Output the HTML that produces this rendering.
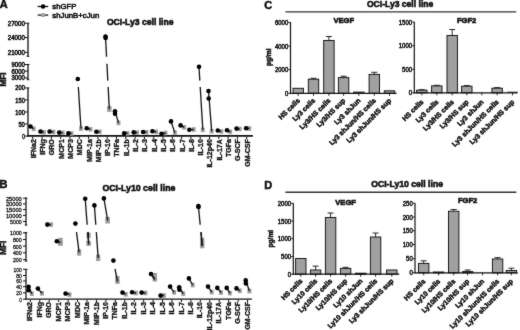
<!DOCTYPE html>
<html><head><meta charset="utf-8"><style>
html,body{margin:0;padding:0;background:#fff;}
svg{display:block;}
text{font-family:"Liberation Sans", sans-serif;}
</style></head><body>
<svg width="520" height="330" viewBox="0 0 520 330">
<defs><filter id="bl" x="0" y="0" width="520" height="330" filterUnits="userSpaceOnUse" color-interpolation-filters="sRGB"><feConvolveMatrix order="3" kernelMatrix="1 2 1 2 28 2 1 2 1" divisor="40" edgeMode="duplicate"/></filter></defs>
<g filter="url(#bl)">
<rect width="520" height="330" fill="#fff"/>
<text x="-0.2" y="8.4" font-size="11" font-weight="bold" text-anchor="start" fill="#111" stroke="#111" stroke-width="0.5">A</text>
<text x="-0.6" y="187.8" font-size="11" font-weight="bold" text-anchor="start" fill="#111" stroke="#111" stroke-width="0.5">B</text>
<text x="264.3" y="8.7" font-size="11" font-weight="bold" text-anchor="start" fill="#111" stroke="#111" stroke-width="0.5">C</text>
<text x="264.3" y="188.5" font-size="11" font-weight="bold" text-anchor="start" fill="#111" stroke="#111" stroke-width="0.5">D</text>
<line x1="37.7" y1="6.5" x2="48.2" y2="6.5" stroke="#111" stroke-width="1.3"/>
<circle cx="43.1" cy="6.5" r="2.3" fill="#000"/>
<text x="52.3" y="9.3" font-size="7.5" font-weight="normal" text-anchor="start" fill="#111" textLength="24" lengthAdjust="spacingAndGlyphs" stroke="#111" stroke-width="0.55">shGFP</text>
<line x1="37.7" y1="15.1" x2="48.2" y2="15.1" stroke="#333" stroke-width="1.5"/>
<rect x="41.3" y="13.2" width="3.6" height="3.8" fill="#a0a0a0"/>
<text x="52.3" y="17.9" font-size="7.5" font-weight="normal" text-anchor="start" fill="#111" textLength="47" lengthAdjust="spacingAndGlyphs" stroke="#111" stroke-width="0.55">shJunB+cJun</text>
<text x="106.9" y="25.4" font-size="9" font-weight="bold" text-anchor="start" fill="#111" textLength="66.6" lengthAdjust="spacingAndGlyphs" stroke="#111" stroke-width="0.6">OCI-Ly3 cell line</text>
<line x1="28.0" y1="23.2" x2="28.0" y2="56.5" stroke="#111" stroke-width="1.3"/>
<line x1="26.7" y1="56.3" x2="29.3" y2="56.3" stroke="#111" stroke-width="1.0"/>
<line x1="28.0" y1="64.5" x2="28.0" y2="80.0" stroke="#111" stroke-width="1.3"/>
<line x1="26.7" y1="79.7" x2="29.3" y2="79.7" stroke="#111" stroke-width="1.0"/>
<line x1="28.0" y1="87.9" x2="28.0" y2="136.6" stroke="#111" stroke-width="1.3"/>
<line x1="28.0" y1="23.2" x2="29.4" y2="23.2" stroke="#111" stroke-width="1.0"/>
<line x1="28.0" y1="64.5" x2="29.4" y2="64.5" stroke="#111" stroke-width="1.0"/>
<line x1="28.0" y1="87.9" x2="29.4" y2="87.9" stroke="#111" stroke-width="1.0"/>
<line x1="25.0" y1="23.2" x2="28.0" y2="23.2" stroke="#111" stroke-width="1.0"/>
<text x="24.8" y="25.7" font-size="7" font-weight="normal" text-anchor="end" fill="#111" textLength="17" lengthAdjust="spacingAndGlyphs" stroke="#111" stroke-width="0.55">27000</text>
<line x1="25.0" y1="37.6" x2="28.0" y2="37.6" stroke="#111" stroke-width="1.0"/>
<text x="24.8" y="40.1" font-size="7" font-weight="normal" text-anchor="end" fill="#111" textLength="17" lengthAdjust="spacingAndGlyphs" stroke="#111" stroke-width="0.55">24000</text>
<line x1="25.0" y1="52.3" x2="28.0" y2="52.3" stroke="#111" stroke-width="1.0"/>
<text x="24.8" y="54.8" font-size="7" font-weight="normal" text-anchor="end" fill="#111" textLength="17" lengthAdjust="spacingAndGlyphs" stroke="#111" stroke-width="0.55">21000</text>
<line x1="25.0" y1="64.5" x2="28.0" y2="64.5" stroke="#111" stroke-width="1.0"/>
<text x="24.8" y="67.0" font-size="7" font-weight="normal" text-anchor="end" fill="#111" textLength="13.3" lengthAdjust="spacingAndGlyphs" stroke="#111" stroke-width="0.55">9000</text>
<line x1="25.0" y1="71.1" x2="28.0" y2="71.1" stroke="#111" stroke-width="1.0"/>
<text x="24.8" y="73.6" font-size="7" font-weight="normal" text-anchor="end" fill="#111" textLength="13.3" lengthAdjust="spacingAndGlyphs" stroke="#111" stroke-width="0.55">6000</text>
<line x1="25.0" y1="77.9" x2="28.0" y2="77.9" stroke="#111" stroke-width="1.0"/>
<text x="24.8" y="80.4" font-size="7" font-weight="normal" text-anchor="end" fill="#111" textLength="13.3" lengthAdjust="spacingAndGlyphs" stroke="#111" stroke-width="0.55">3000</text>
<line x1="25.0" y1="87.9" x2="28.0" y2="87.9" stroke="#111" stroke-width="1.0"/>
<text x="24.8" y="90.4" font-size="7" font-weight="normal" text-anchor="end" fill="#111" textLength="9.5" lengthAdjust="spacingAndGlyphs" stroke="#111" stroke-width="0.55">200</text>
<line x1="25.0" y1="100.0" x2="28.0" y2="100.0" stroke="#111" stroke-width="1.0"/>
<text x="24.8" y="102.5" font-size="7" font-weight="normal" text-anchor="end" fill="#111" textLength="9.5" lengthAdjust="spacingAndGlyphs" stroke="#111" stroke-width="0.55">150</text>
<line x1="25.0" y1="112.0" x2="28.0" y2="112.0" stroke="#111" stroke-width="1.0"/>
<text x="24.8" y="114.5" font-size="7" font-weight="normal" text-anchor="end" fill="#111" textLength="9.5" lengthAdjust="spacingAndGlyphs" stroke="#111" stroke-width="0.55">100</text>
<line x1="25.0" y1="124.0" x2="28.0" y2="124.0" stroke="#111" stroke-width="1.0"/>
<text x="24.8" y="126.5" font-size="7" font-weight="normal" text-anchor="end" fill="#111" textLength="6.4" lengthAdjust="spacingAndGlyphs" stroke="#111" stroke-width="0.55">50</text>
<line x1="25.0" y1="136.1" x2="28.0" y2="136.1" stroke="#111" stroke-width="1.0"/>
<text x="24.8" y="138.6" font-size="7" font-weight="normal" text-anchor="end" fill="#111" textLength="2.6" lengthAdjust="spacingAndGlyphs" stroke="#111" stroke-width="0.55">0</text>
<text transform="translate(6.0,79.5) rotate(-90)" font-size="8.2" font-weight="bold" text-anchor="middle" fill="#111" stroke="#111" stroke-width="0.5">MFI</text>
<line x1="27.4" y1="135.9" x2="252.9" y2="135.9" stroke="#111" stroke-width="1.6"/>
<line x1="32.8" y1="136.5" x2="32.8" y2="139.0" stroke="#111" stroke-width="1.0"/>
<text transform="translate(35.699999999999996,139.2) rotate(-90)" font-size="7.0" font-weight="bold" text-anchor="end" fill="#111" stroke="#111" stroke-width="0.35">IFNa2</text>
<line x1="42.099999999999994" y1="136.5" x2="42.099999999999994" y2="139.0" stroke="#111" stroke-width="1.0"/>
<text transform="translate(44.99999999999999,139.2) rotate(-90)" font-size="7.0" font-weight="bold" text-anchor="end" fill="#111" stroke="#111" stroke-width="0.35">IFNg</text>
<line x1="51.4" y1="136.5" x2="51.4" y2="139.0" stroke="#111" stroke-width="1.0"/>
<text transform="translate(54.3,139.2) rotate(-90)" font-size="7.0" font-weight="bold" text-anchor="end" fill="#111" stroke="#111" stroke-width="0.35">GRO</text>
<line x1="60.7" y1="136.5" x2="60.7" y2="139.0" stroke="#111" stroke-width="1.0"/>
<text transform="translate(63.6,139.2) rotate(-90)" font-size="7.0" font-weight="bold" text-anchor="end" fill="#111" stroke="#111" stroke-width="0.35">MCP1</text>
<line x1="70.0" y1="136.5" x2="70.0" y2="139.0" stroke="#111" stroke-width="1.0"/>
<text transform="translate(72.9,139.2) rotate(-90)" font-size="7.0" font-weight="bold" text-anchor="end" fill="#111" stroke="#111" stroke-width="0.35">MCP3</text>
<line x1="79.3" y1="136.5" x2="79.3" y2="139.0" stroke="#111" stroke-width="1.0"/>
<text transform="translate(82.2,139.2) rotate(-90)" font-size="7.0" font-weight="bold" text-anchor="end" fill="#111" stroke="#111" stroke-width="0.35">MDC</text>
<line x1="88.6" y1="136.5" x2="88.6" y2="139.0" stroke="#111" stroke-width="1.0"/>
<text transform="translate(91.5,139.2) rotate(-90)" font-size="7.0" font-weight="bold" text-anchor="end" fill="#111" stroke="#111" stroke-width="0.35">MIP-1a</text>
<line x1="97.9" y1="136.5" x2="97.9" y2="139.0" stroke="#111" stroke-width="1.0"/>
<text transform="translate(100.80000000000001,139.2) rotate(-90)" font-size="7.0" font-weight="bold" text-anchor="end" fill="#111" stroke="#111" stroke-width="0.35">MIP-1b</text>
<line x1="107.2" y1="136.5" x2="107.2" y2="139.0" stroke="#111" stroke-width="1.0"/>
<text transform="translate(110.10000000000001,139.2) rotate(-90)" font-size="7.0" font-weight="bold" text-anchor="end" fill="#111" stroke="#111" stroke-width="0.35">IP-10</text>
<line x1="116.5" y1="136.5" x2="116.5" y2="139.0" stroke="#111" stroke-width="1.0"/>
<text transform="translate(119.4,139.2) rotate(-90)" font-size="7.0" font-weight="bold" text-anchor="end" fill="#111" stroke="#111" stroke-width="0.35">TNFa</text>
<line x1="125.8" y1="136.5" x2="125.8" y2="139.0" stroke="#111" stroke-width="1.0"/>
<text transform="translate(128.7,139.2) rotate(-90)" font-size="7.0" font-weight="bold" text-anchor="end" fill="#111" stroke="#111" stroke-width="0.35">IL-1b</text>
<line x1="135.10000000000002" y1="136.5" x2="135.10000000000002" y2="139.0" stroke="#111" stroke-width="1.0"/>
<text transform="translate(138.00000000000003,139.2) rotate(-90)" font-size="7.0" font-weight="bold" text-anchor="end" fill="#111" stroke="#111" stroke-width="0.35">IL-2</text>
<line x1="144.4" y1="136.5" x2="144.4" y2="139.0" stroke="#111" stroke-width="1.0"/>
<text transform="translate(147.3,139.2) rotate(-90)" font-size="7.0" font-weight="bold" text-anchor="end" fill="#111" stroke="#111" stroke-width="0.35">IL-3</text>
<line x1="153.7" y1="136.5" x2="153.7" y2="139.0" stroke="#111" stroke-width="1.0"/>
<text transform="translate(156.6,139.2) rotate(-90)" font-size="7.0" font-weight="bold" text-anchor="end" fill="#111" stroke="#111" stroke-width="0.35">IL-4</text>
<line x1="163.0" y1="136.5" x2="163.0" y2="139.0" stroke="#111" stroke-width="1.0"/>
<text transform="translate(165.9,139.2) rotate(-90)" font-size="7.0" font-weight="bold" text-anchor="end" fill="#111" stroke="#111" stroke-width="0.35">IL-5</text>
<line x1="172.3" y1="136.5" x2="172.3" y2="139.0" stroke="#111" stroke-width="1.0"/>
<text transform="translate(175.20000000000002,139.2) rotate(-90)" font-size="7.0" font-weight="bold" text-anchor="end" fill="#111" stroke="#111" stroke-width="0.35">IL-6</text>
<line x1="181.60000000000002" y1="136.5" x2="181.60000000000002" y2="139.0" stroke="#111" stroke-width="1.0"/>
<text transform="translate(184.50000000000003,139.2) rotate(-90)" font-size="7.0" font-weight="bold" text-anchor="end" fill="#111" stroke="#111" stroke-width="0.35">IL-7</text>
<line x1="190.90000000000003" y1="136.5" x2="190.90000000000003" y2="139.0" stroke="#111" stroke-width="1.0"/>
<text transform="translate(193.80000000000004,139.2) rotate(-90)" font-size="7.0" font-weight="bold" text-anchor="end" fill="#111" stroke="#111" stroke-width="0.35">IL-8</text>
<line x1="200.2" y1="136.5" x2="200.2" y2="139.0" stroke="#111" stroke-width="1.0"/>
<text transform="translate(203.1,139.2) rotate(-90)" font-size="7.0" font-weight="bold" text-anchor="end" fill="#111" stroke="#111" stroke-width="0.35">IL-10</text>
<line x1="209.5" y1="136.5" x2="209.5" y2="139.0" stroke="#111" stroke-width="1.0"/>
<text transform="translate(212.4,139.2) rotate(-90)" font-size="7.0" font-weight="bold" text-anchor="end" fill="#111" stroke="#111" stroke-width="0.35">IL-12p40</text>
<line x1="218.8" y1="136.5" x2="218.8" y2="139.0" stroke="#111" stroke-width="1.0"/>
<text transform="translate(221.70000000000002,139.2) rotate(-90)" font-size="7.0" font-weight="bold" text-anchor="end" fill="#111" stroke="#111" stroke-width="0.35">IL-17A</text>
<line x1="228.10000000000002" y1="136.5" x2="228.10000000000002" y2="139.0" stroke="#111" stroke-width="1.0"/>
<text transform="translate(231.00000000000003,139.2) rotate(-90)" font-size="7.0" font-weight="bold" text-anchor="end" fill="#111" stroke="#111" stroke-width="0.35">TGFa</text>
<line x1="237.40000000000003" y1="136.5" x2="237.40000000000003" y2="139.0" stroke="#111" stroke-width="1.0"/>
<text transform="translate(240.30000000000004,139.2) rotate(-90)" font-size="7.0" font-weight="bold" text-anchor="end" fill="#111" stroke="#111" stroke-width="0.35">G-SCF</text>
<line x1="246.7" y1="136.5" x2="246.7" y2="139.0" stroke="#111" stroke-width="1.0"/>
<text transform="translate(249.6,139.2) rotate(-90)" font-size="7.0" font-weight="bold" text-anchor="end" fill="#111" stroke="#111" stroke-width="0.35">GM-CSF</text>
<rect x="107.1" y="106.1" width="4.4" height="5.8" fill="#a0a0a0"/>
<rect x="31.75" y="126.5" width="3.9" height="4.6" fill="#a0a0a0"/>
<rect x="41.95" y="130.0" width="3.9" height="4.6" fill="#a0a0a0"/>
<rect x="51.45" y="129.7" width="3.9" height="4.6" fill="#a0a0a0"/>
<rect x="60.75" y="130.5" width="3.9" height="4.6" fill="#a0a0a0"/>
<rect x="69.55" y="131.2" width="3.9" height="4.6" fill="#a0a0a0"/>
<rect x="79.05" y="126.3" width="3.9" height="4.6" fill="#a0a0a0"/>
<rect x="88.55" y="127.0" width="3.9" height="4.6" fill="#a0a0a0"/>
<rect x="97.75" y="129.5" width="3.9" height="4.6" fill="#a0a0a0"/>
<rect x="107.35" y="106.7" width="3.9" height="4.6" fill="#a0a0a0"/>
<rect x="116.55" y="120.6" width="3.9" height="4.6" fill="#a0a0a0"/>
<rect x="125.55" y="131.0" width="3.9" height="4.6" fill="#a0a0a0"/>
<rect x="135.15" y="130.3" width="3.9" height="4.6" fill="#a0a0a0"/>
<rect x="144.55" y="130.0" width="3.9" height="4.6" fill="#a0a0a0"/>
<rect x="154.25" y="129.5" width="3.9" height="4.6" fill="#a0a0a0"/>
<rect x="163.55" y="130.7" width="3.9" height="4.6" fill="#a0a0a0"/>
<rect x="172.95" y="130.5" width="3.9" height="4.6" fill="#a0a0a0"/>
<rect x="182.25" y="125.1" width="3.9" height="4.6" fill="#a0a0a0"/>
<rect x="191.75" y="127.2" width="3.9" height="4.6" fill="#a0a0a0"/>
<rect x="200.85" y="127.6" width="3.9" height="4.6" fill="#a0a0a0"/>
<rect x="209.75" y="128.9" width="3.9" height="4.6" fill="#a0a0a0"/>
<rect x="219.35" y="129.2" width="3.9" height="4.6" fill="#a0a0a0"/>
<rect x="228.25" y="129.5" width="3.9" height="4.6" fill="#a0a0a0"/>
<rect x="237.75" y="126.7" width="3.9" height="4.6" fill="#a0a0a0"/>
<rect x="247.35" y="126.2" width="3.9" height="4.6" fill="#a0a0a0"/>
<line x1="30.5" y1="126.5" x2="33.7" y2="128.8" stroke="#111" stroke-width="1.3"/>
<line x1="40.5" y1="131.6" x2="43.9" y2="132.3" stroke="#111" stroke-width="1.3"/>
<line x1="49.6" y1="131.6" x2="53.4" y2="132.0" stroke="#111" stroke-width="1.3"/>
<line x1="59.2" y1="132.6" x2="62.7" y2="132.8" stroke="#111" stroke-width="1.3"/>
<line x1="68.3" y1="133.3" x2="71.5" y2="133.5" stroke="#111" stroke-width="1.3"/>
<line x1="77.8" y1="79.0" x2="77.9" y2="80.6" stroke="#111" stroke-width="1.3"/>
<line x1="78.32" y1="87.0" x2="81.0" y2="128.6" stroke="#111" stroke-width="1.3"/>
<line x1="86.7" y1="128.2" x2="90.5" y2="129.3" stroke="#111" stroke-width="1.3"/>
<line x1="96.3" y1="131.8" x2="99.7" y2="131.8" stroke="#111" stroke-width="1.3"/>
<line x1="105.5" y1="36.5" x2="106.56" y2="56.8" stroke="#111" stroke-width="1.3"/>
<line x1="106.93" y1="63.7" x2="107.81" y2="80.6" stroke="#111" stroke-width="1.3"/>
<line x1="108.15" y1="87.0" x2="109.3" y2="109.0" stroke="#111" stroke-width="1.3"/>
<line x1="115.0" y1="111.2" x2="118.5" y2="122.9" stroke="#111" stroke-width="1.3"/>
<line x1="124.2" y1="133.3" x2="127.5" y2="133.3" stroke="#111" stroke-width="1.3"/>
<line x1="133.7" y1="132.4" x2="137.1" y2="132.6" stroke="#111" stroke-width="1.3"/>
<line x1="143.1" y1="132.0" x2="146.5" y2="132.3" stroke="#111" stroke-width="1.3"/>
<line x1="152.4" y1="131.2" x2="156.2" y2="131.8" stroke="#111" stroke-width="1.3"/>
<line x1="161.5" y1="133.7" x2="165.5" y2="133.0" stroke="#111" stroke-width="1.3"/>
<line x1="171.0" y1="121.4" x2="174.9" y2="132.8" stroke="#111" stroke-width="1.3"/>
<line x1="180.6" y1="125.4" x2="184.2" y2="127.4" stroke="#111" stroke-width="1.3"/>
<line x1="189.3" y1="129.7" x2="193.7" y2="129.5" stroke="#111" stroke-width="1.3"/>
<line x1="199.0" y1="66.7" x2="199.84" y2="80.6" stroke="#111" stroke-width="1.3"/>
<line x1="200.22" y1="87.0" x2="202.8" y2="129.9" stroke="#111" stroke-width="1.3"/>
<line x1="208.5" y1="91.0" x2="211.7" y2="131.2" stroke="#111" stroke-width="1.3"/>
<line x1="217.8" y1="130.5" x2="221.3" y2="131.5" stroke="#111" stroke-width="1.3"/>
<line x1="227.0" y1="130.3" x2="230.2" y2="131.8" stroke="#111" stroke-width="1.3"/>
<line x1="236.5" y1="128.6" x2="239.7" y2="129.0" stroke="#111" stroke-width="1.3"/>
<line x1="246.1" y1="128.2" x2="249.3" y2="128.5" stroke="#111" stroke-width="1.3"/>
<circle cx="30.5" cy="126.5" r="2.3" fill="#000"/>
<circle cx="40.5" cy="131.6" r="2.3" fill="#000"/>
<circle cx="49.6" cy="131.6" r="2.3" fill="#000"/>
<circle cx="59.2" cy="132.6" r="2.3" fill="#000"/>
<circle cx="68.3" cy="133.3" r="2.3" fill="#000"/>
<circle cx="77.8" cy="79.0" r="2.3" fill="#000"/>
<circle cx="86.7" cy="128.2" r="2.3" fill="#000"/>
<circle cx="96.3" cy="131.8" r="2.3" fill="#000"/>
<circle cx="105.5" cy="36.5" r="2.3" fill="#000"/>
<circle cx="105.6" cy="37.9" r="2.3" fill="#000"/>
<circle cx="115.0" cy="111.2" r="2.3" fill="#000"/>
<circle cx="115.0" cy="113.8" r="2.3" fill="#000"/>
<circle cx="124.2" cy="133.3" r="2.3" fill="#000"/>
<circle cx="133.7" cy="132.4" r="2.3" fill="#000"/>
<circle cx="143.1" cy="132.0" r="2.3" fill="#000"/>
<circle cx="152.4" cy="131.2" r="2.3" fill="#000"/>
<circle cx="161.5" cy="133.7" r="2.3" fill="#000"/>
<circle cx="171.0" cy="121.4" r="2.3" fill="#000"/>
<circle cx="180.6" cy="125.4" r="2.3" fill="#000"/>
<circle cx="189.3" cy="129.7" r="2.3" fill="#000"/>
<circle cx="199.0" cy="66.7" r="2.3" fill="#000"/>
<circle cx="208.5" cy="91.0" r="2.3" fill="#000"/>
<circle cx="208.7" cy="98.5" r="2.3" fill="#000"/>
<circle cx="217.8" cy="130.5" r="2.3" fill="#000"/>
<circle cx="227.0" cy="130.3" r="2.3" fill="#000"/>
<circle cx="236.5" cy="128.6" r="2.3" fill="#000"/>
<circle cx="246.1" cy="128.2" r="2.3" fill="#000"/>
<text x="102.4" y="191.1" font-size="9.5" font-weight="bold" text-anchor="start" fill="#111" textLength="73" lengthAdjust="spacingAndGlyphs" stroke="#111" stroke-width="0.6">OCI-Ly10 cell line</text>
<line x1="26.0" y1="197.6" x2="26.0" y2="225.2" stroke="#000" stroke-width="1.15"/>
<line x1="26.0" y1="198.2" x2="27.4" y2="198.2" stroke="#111" stroke-width="1.0"/>
<line x1="26.0" y1="269.3" x2="27.4" y2="269.3" stroke="#111" stroke-width="1.0"/>
<line x1="24.7" y1="225.0" x2="27.3" y2="225.0" stroke="#111" stroke-width="1.0"/>
<line x1="26.0" y1="232.5" x2="26.0" y2="261.3" stroke="#000" stroke-width="1.15"/>
<line x1="24.7" y1="232.7" x2="27.3" y2="232.7" stroke="#111" stroke-width="1.0"/>
<line x1="24.7" y1="261.1" x2="27.3" y2="261.1" stroke="#111" stroke-width="1.0"/>
<line x1="26.0" y1="269.0" x2="26.0" y2="299.6" stroke="#000" stroke-width="1.15"/>
<line x1="23.0" y1="198.2" x2="26.0" y2="198.2" stroke="#111" stroke-width="1.0"/>
<text x="21.8" y="200.6" font-size="6.2" font-weight="normal" text-anchor="end" fill="#111" textLength="15.9" lengthAdjust="spacingAndGlyphs" stroke="#111" stroke-width="0.3">25000</text>
<line x1="23.0" y1="203.9" x2="26.0" y2="203.9" stroke="#111" stroke-width="1.0"/>
<text x="21.8" y="206.3" font-size="6.2" font-weight="normal" text-anchor="end" fill="#111" textLength="15.9" lengthAdjust="spacingAndGlyphs" stroke="#111" stroke-width="0.3">20000</text>
<line x1="23.0" y1="209.6" x2="26.0" y2="209.6" stroke="#111" stroke-width="1.0"/>
<text x="21.8" y="212.0" font-size="6.2" font-weight="normal" text-anchor="end" fill="#111" textLength="15.9" lengthAdjust="spacingAndGlyphs" stroke="#111" stroke-width="0.3">15000</text>
<line x1="23.0" y1="215.4" x2="26.0" y2="215.4" stroke="#111" stroke-width="1.0"/>
<text x="21.8" y="217.8" font-size="6.2" font-weight="normal" text-anchor="end" fill="#111" textLength="15.9" lengthAdjust="spacingAndGlyphs" stroke="#111" stroke-width="0.3">10000</text>
<line x1="23.0" y1="221.5" x2="26.0" y2="221.5" stroke="#111" stroke-width="1.0"/>
<text x="21.8" y="223.9" font-size="6.2" font-weight="normal" text-anchor="end" fill="#111" textLength="11.7" lengthAdjust="spacingAndGlyphs" stroke="#111" stroke-width="0.3">5000</text>
<line x1="23.0" y1="232.8" x2="26.0" y2="232.8" stroke="#111" stroke-width="1.0"/>
<text x="21.8" y="235.20000000000002" font-size="6.2" font-weight="normal" text-anchor="end" fill="#111" textLength="11.7" lengthAdjust="spacingAndGlyphs" stroke="#111" stroke-width="0.3">1000</text>
<line x1="23.0" y1="239.5" x2="26.0" y2="239.5" stroke="#111" stroke-width="1.0"/>
<text x="21.8" y="241.9" font-size="6.2" font-weight="normal" text-anchor="end" fill="#111" textLength="8.9" lengthAdjust="spacingAndGlyphs" stroke="#111" stroke-width="0.3">800</text>
<line x1="23.0" y1="246.1" x2="26.0" y2="246.1" stroke="#111" stroke-width="1.0"/>
<text x="21.8" y="248.5" font-size="6.2" font-weight="normal" text-anchor="end" fill="#111" textLength="8.9" lengthAdjust="spacingAndGlyphs" stroke="#111" stroke-width="0.3">600</text>
<line x1="23.0" y1="252.8" x2="26.0" y2="252.8" stroke="#111" stroke-width="1.0"/>
<text x="21.8" y="255.20000000000002" font-size="6.2" font-weight="normal" text-anchor="end" fill="#111" textLength="8.9" lengthAdjust="spacingAndGlyphs" stroke="#111" stroke-width="0.3">400</text>
<line x1="23.0" y1="259.6" x2="26.0" y2="259.6" stroke="#111" stroke-width="1.0"/>
<text x="21.8" y="262.0" font-size="6.2" font-weight="normal" text-anchor="end" fill="#111" textLength="8.9" lengthAdjust="spacingAndGlyphs" stroke="#111" stroke-width="0.3">200</text>
<line x1="23.0" y1="269.3" x2="26.0" y2="269.3" stroke="#111" stroke-width="1.0"/>
<text x="21.8" y="271.7" font-size="6.2" font-weight="normal" text-anchor="end" fill="#111" textLength="8.2" lengthAdjust="spacingAndGlyphs" stroke="#111" stroke-width="0.3">100</text>
<line x1="23.0" y1="275.5" x2="26.0" y2="275.5" stroke="#111" stroke-width="1.0"/>
<text x="21.8" y="277.9" font-size="6.2" font-weight="normal" text-anchor="end" fill="#111" textLength="5.5" lengthAdjust="spacingAndGlyphs" stroke="#111" stroke-width="0.3">80</text>
<line x1="23.0" y1="281.0" x2="26.0" y2="281.0" stroke="#111" stroke-width="1.0"/>
<text x="21.8" y="283.4" font-size="6.2" font-weight="normal" text-anchor="end" fill="#111" textLength="5.5" lengthAdjust="spacingAndGlyphs" stroke="#111" stroke-width="0.3">60</text>
<line x1="23.0" y1="286.7" x2="26.0" y2="286.7" stroke="#111" stroke-width="1.0"/>
<text x="21.8" y="289.09999999999997" font-size="6.2" font-weight="normal" text-anchor="end" fill="#111" textLength="5.5" lengthAdjust="spacingAndGlyphs" stroke="#111" stroke-width="0.3">40</text>
<line x1="23.0" y1="292.8" x2="26.0" y2="292.8" stroke="#111" stroke-width="1.0"/>
<text x="21.8" y="295.2" font-size="6.2" font-weight="normal" text-anchor="end" fill="#111" textLength="5.5" lengthAdjust="spacingAndGlyphs" stroke="#111" stroke-width="0.3">20</text>
<line x1="23.0" y1="299.2" x2="26.0" y2="299.2" stroke="#111" stroke-width="1.0"/>
<text x="21.8" y="301.59999999999997" font-size="6.2" font-weight="normal" text-anchor="end" fill="#111" textLength="2.6" lengthAdjust="spacingAndGlyphs" stroke="#111" stroke-width="0.3">0</text>
<text transform="translate(6.0,247.7) rotate(-90)" font-size="8.2" font-weight="bold" text-anchor="middle" fill="#111" stroke="#111" stroke-width="0.5">MFI</text>
<line x1="25.4" y1="299.1" x2="251.9" y2="299.1" stroke="#111" stroke-width="1.4"/>
<line x1="30.3" y1="299.6" x2="30.3" y2="302.0" stroke="#111" stroke-width="1.0"/>
<text transform="translate(32.4,302.0) rotate(-90)" font-size="7.0" font-weight="bold" text-anchor="end" fill="#111" stroke="#111" stroke-width="0.35">IFNa2</text>
<line x1="39.745999999999995" y1="299.6" x2="39.745999999999995" y2="302.0" stroke="#111" stroke-width="1.0"/>
<text transform="translate(41.846,302.0) rotate(-90)" font-size="7.0" font-weight="bold" text-anchor="end" fill="#111" stroke="#111" stroke-width="0.35">IFNg</text>
<line x1="49.19199999999999" y1="299.6" x2="49.19199999999999" y2="302.0" stroke="#111" stroke-width="1.0"/>
<text transform="translate(51.291999999999994,302.0) rotate(-90)" font-size="7.0" font-weight="bold" text-anchor="end" fill="#111" stroke="#111" stroke-width="0.35">GRO</text>
<line x1="58.638" y1="299.6" x2="58.638" y2="302.0" stroke="#111" stroke-width="1.0"/>
<text transform="translate(60.738,302.0) rotate(-90)" font-size="7.0" font-weight="bold" text-anchor="end" fill="#111" stroke="#111" stroke-width="0.35">MCP1</text>
<line x1="68.08399999999999" y1="299.6" x2="68.08399999999999" y2="302.0" stroke="#111" stroke-width="1.0"/>
<text transform="translate(70.184,302.0) rotate(-90)" font-size="7.0" font-weight="bold" text-anchor="end" fill="#111" stroke="#111" stroke-width="0.35">MCP3</text>
<line x1="77.52999999999999" y1="299.6" x2="77.52999999999999" y2="302.0" stroke="#111" stroke-width="1.0"/>
<text transform="translate(79.63,302.0) rotate(-90)" font-size="7.0" font-weight="bold" text-anchor="end" fill="#111" stroke="#111" stroke-width="0.35">MDC</text>
<line x1="86.976" y1="299.6" x2="86.976" y2="302.0" stroke="#111" stroke-width="1.0"/>
<text transform="translate(89.07600000000001,302.0) rotate(-90)" font-size="7.0" font-weight="bold" text-anchor="end" fill="#111" stroke="#111" stroke-width="0.35">MIP-1a</text>
<line x1="96.422" y1="299.6" x2="96.422" y2="302.0" stroke="#111" stroke-width="1.0"/>
<text transform="translate(98.522,302.0) rotate(-90)" font-size="7.0" font-weight="bold" text-anchor="end" fill="#111" stroke="#111" stroke-width="0.35">MIP-1b</text>
<line x1="105.868" y1="299.6" x2="105.868" y2="302.0" stroke="#111" stroke-width="1.0"/>
<text transform="translate(107.968,302.0) rotate(-90)" font-size="7.0" font-weight="bold" text-anchor="end" fill="#111" stroke="#111" stroke-width="0.35">IP-10</text>
<line x1="115.314" y1="299.6" x2="115.314" y2="302.0" stroke="#111" stroke-width="1.0"/>
<text transform="translate(117.414,302.0) rotate(-90)" font-size="7.0" font-weight="bold" text-anchor="end" fill="#111" stroke="#111" stroke-width="0.35">TNFa</text>
<line x1="124.75999999999999" y1="299.6" x2="124.75999999999999" y2="302.0" stroke="#111" stroke-width="1.0"/>
<text transform="translate(126.86,302.0) rotate(-90)" font-size="7.0" font-weight="bold" text-anchor="end" fill="#111" stroke="#111" stroke-width="0.35">IL-1b</text>
<line x1="134.20600000000002" y1="299.6" x2="134.20600000000002" y2="302.0" stroke="#111" stroke-width="1.0"/>
<text transform="translate(136.306,302.0) rotate(-90)" font-size="7.0" font-weight="bold" text-anchor="end" fill="#111" stroke="#111" stroke-width="0.35">IL-2</text>
<line x1="143.65200000000002" y1="299.6" x2="143.65200000000002" y2="302.0" stroke="#111" stroke-width="1.0"/>
<text transform="translate(145.752,302.0) rotate(-90)" font-size="7.0" font-weight="bold" text-anchor="end" fill="#111" stroke="#111" stroke-width="0.35">IL-3</text>
<line x1="153.098" y1="299.6" x2="153.098" y2="302.0" stroke="#111" stroke-width="1.0"/>
<text transform="translate(155.198,302.0) rotate(-90)" font-size="7.0" font-weight="bold" text-anchor="end" fill="#111" stroke="#111" stroke-width="0.35">IL-4</text>
<line x1="162.544" y1="299.6" x2="162.544" y2="302.0" stroke="#111" stroke-width="1.0"/>
<text transform="translate(164.644,302.0) rotate(-90)" font-size="7.0" font-weight="bold" text-anchor="end" fill="#111" stroke="#111" stroke-width="0.35">IL-5</text>
<line x1="171.99" y1="299.6" x2="171.99" y2="302.0" stroke="#111" stroke-width="1.0"/>
<text transform="translate(174.09,302.0) rotate(-90)" font-size="7.0" font-weight="bold" text-anchor="end" fill="#111" stroke="#111" stroke-width="0.35">IL-6</text>
<line x1="181.436" y1="299.6" x2="181.436" y2="302.0" stroke="#111" stroke-width="1.0"/>
<text transform="translate(183.536,302.0) rotate(-90)" font-size="7.0" font-weight="bold" text-anchor="end" fill="#111" stroke="#111" stroke-width="0.35">IL-7</text>
<line x1="190.882" y1="299.6" x2="190.882" y2="302.0" stroke="#111" stroke-width="1.0"/>
<text transform="translate(192.982,302.0) rotate(-90)" font-size="7.0" font-weight="bold" text-anchor="end" fill="#111" stroke="#111" stroke-width="0.35">IL-8</text>
<line x1="200.328" y1="299.6" x2="200.328" y2="302.0" stroke="#111" stroke-width="1.0"/>
<text transform="translate(202.428,302.0) rotate(-90)" font-size="7.0" font-weight="bold" text-anchor="end" fill="#111" stroke="#111" stroke-width="0.35">IL-10</text>
<line x1="209.774" y1="299.6" x2="209.774" y2="302.0" stroke="#111" stroke-width="1.0"/>
<text transform="translate(211.874,302.0) rotate(-90)" font-size="7.0" font-weight="bold" text-anchor="end" fill="#111" stroke="#111" stroke-width="0.35">IL-12p40</text>
<line x1="219.22" y1="299.6" x2="219.22" y2="302.0" stroke="#111" stroke-width="1.0"/>
<text transform="translate(221.32,302.0) rotate(-90)" font-size="7.0" font-weight="bold" text-anchor="end" fill="#111" stroke="#111" stroke-width="0.35">IL-17A</text>
<line x1="228.666" y1="299.6" x2="228.666" y2="302.0" stroke="#111" stroke-width="1.0"/>
<text transform="translate(230.766,302.0) rotate(-90)" font-size="7.0" font-weight="bold" text-anchor="end" fill="#111" stroke="#111" stroke-width="0.35">TGFa</text>
<line x1="238.112" y1="299.6" x2="238.112" y2="302.0" stroke="#111" stroke-width="1.0"/>
<text transform="translate(240.212,302.0) rotate(-90)" font-size="7.0" font-weight="bold" text-anchor="end" fill="#111" stroke="#111" stroke-width="0.35">G-SCF</text>
<line x1="247.558" y1="299.6" x2="247.558" y2="302.0" stroke="#111" stroke-width="1.0"/>
<text transform="translate(249.658,302.0) rotate(-90)" font-size="7.0" font-weight="bold" text-anchor="end" fill="#111" stroke="#111" stroke-width="0.35">GM-CSF</text>
<rect x="86.5" y="232.8" width="4.2" height="5.0" fill="#9c9c9c"/>
<rect x="86.5" y="240.9" width="4.2" height="4.6" fill="#9c9c9c"/>
<rect x="200.05" y="237.8" width="4.3" height="10.0" fill="#9c9c9c"/>
<rect x="152.65" y="272.9" width="4.3" height="8.0" fill="#9c9c9c"/>
<rect x="77.1" y="249.35" width="4.0" height="6.3" fill="#9c9c9c"/>
<rect x="58.1" y="237.8" width="4.6" height="8.0" fill="#9c9c9c"/>
<rect x="96.2" y="254.5" width="4.0" height="6.6" fill="#9c9c9c"/>
<rect x="105.3" y="216.9" width="4.6" height="6.6" fill="#9c9c9c"/>
<rect x="115.3" y="275.9" width="4.2" height="7.4" fill="#9c9c9c"/>
<rect x="29.85" y="291.4" width="3.9" height="4.6" fill="#9c9c9c"/>
<rect x="40.05" y="291.0" width="3.9" height="4.6" fill="#9c9c9c"/>
<rect x="49.05" y="222.3" width="3.9" height="4.6" fill="#9c9c9c"/>
<rect x="58.65" y="240.3" width="3.9" height="4.6" fill="#9c9c9c"/>
<rect x="67.55" y="292.2" width="3.9" height="4.6" fill="#9c9c9c"/>
<rect x="77.15" y="250.1" width="3.9" height="4.6" fill="#9c9c9c"/>
<rect x="86.65" y="241.2" width="3.9" height="4.6" fill="#9c9c9c"/>
<rect x="96.25" y="255.7" width="3.9" height="4.6" fill="#9c9c9c"/>
<rect x="105.75" y="218.2" width="3.9" height="4.6" fill="#9c9c9c"/>
<rect x="115.55" y="279.2" width="3.9" height="4.6" fill="#9c9c9c"/>
<rect x="123.75" y="292.0" width="3.9" height="4.6" fill="#9c9c9c"/>
<rect x="133.95" y="290.7" width="3.9" height="4.6" fill="#9c9c9c"/>
<rect x="143.45" y="290.7" width="3.9" height="4.6" fill="#9c9c9c"/>
<rect x="152.85" y="277.0" width="3.9" height="4.6" fill="#9c9c9c"/>
<rect x="161.95" y="293.2" width="3.9" height="4.6" fill="#9c9c9c"/>
<rect x="172.15" y="290.1" width="3.9" height="4.6" fill="#9c9c9c"/>
<rect x="181.25" y="291.3" width="3.9" height="4.6" fill="#9c9c9c"/>
<rect x="190.75" y="282.7" width="3.9" height="4.6" fill="#9c9c9c"/>
<rect x="200.25" y="243.7" width="3.9" height="4.6" fill="#9c9c9c"/>
<rect x="209.75" y="289.8" width="3.9" height="4.6" fill="#9c9c9c"/>
<rect x="219.05" y="290.2" width="3.9" height="4.6" fill="#9c9c9c"/>
<rect x="227.95" y="290.8" width="3.9" height="4.6" fill="#9c9c9c"/>
<rect x="237.85" y="288.4" width="3.9" height="4.6" fill="#9c9c9c"/>
<rect x="247.45" y="288.7" width="3.9" height="4.6" fill="#9c9c9c"/>
<line x1="28.6" y1="286.7" x2="31.8" y2="293.7" stroke="#111" stroke-width="1.3"/>
<line x1="37.9" y1="288.6" x2="42.0" y2="293.3" stroke="#111" stroke-width="1.3"/>
<line x1="47.3" y1="224.6" x2="51.0" y2="224.6" stroke="#111" stroke-width="1.3"/>
<line x1="56.8" y1="241.2" x2="60.6" y2="242.6" stroke="#111" stroke-width="1.3"/>
<line x1="65.6" y1="293.6" x2="69.5" y2="294.5" stroke="#111" stroke-width="1.3"/>
<line x1="75.4" y1="223.6" x2="75.55" y2="224.8" stroke="#111" stroke-width="1.3"/>
<line x1="76.49" y1="232.1" x2="79.1" y2="252.4" stroke="#111" stroke-width="1.3"/>
<line x1="85.2" y1="198.7" x2="87.18" y2="224.8" stroke="#111" stroke-width="1.3"/>
<line x1="87.73" y1="232.1" x2="88.6" y2="243.5" stroke="#111" stroke-width="1.3"/>
<line x1="94.4" y1="205.4" x2="95.8" y2="224.8" stroke="#111" stroke-width="1.3"/>
<line x1="96.33" y1="232.1" x2="98.2" y2="258.0" stroke="#111" stroke-width="1.3"/>
<line x1="103.9" y1="198.4" x2="107.7" y2="220.5" stroke="#111" stroke-width="1.3"/>
<line x1="113.4" y1="260.6" x2="113.54" y2="261.3" stroke="#111" stroke-width="1.3"/>
<line x1="115.01" y1="268.8" x2="117.5" y2="281.5" stroke="#111" stroke-width="1.3"/>
<line x1="122.5" y1="292.6" x2="125.7" y2="294.3" stroke="#111" stroke-width="1.3"/>
<line x1="132.1" y1="292.3" x2="135.9" y2="293.0" stroke="#111" stroke-width="1.3"/>
<line x1="141.6" y1="292.6" x2="145.4" y2="293.0" stroke="#111" stroke-width="1.3"/>
<line x1="151.0" y1="274.0" x2="154.8" y2="279.3" stroke="#111" stroke-width="1.3"/>
<line x1="160.6" y1="295.6" x2="163.9" y2="295.5" stroke="#111" stroke-width="1.3"/>
<line x1="170.1" y1="286.6" x2="174.1" y2="292.4" stroke="#111" stroke-width="1.3"/>
<line x1="179.2" y1="287.3" x2="183.2" y2="293.6" stroke="#111" stroke-width="1.3"/>
<line x1="188.9" y1="278.4" x2="192.7" y2="285.0" stroke="#111" stroke-width="1.3"/>
<line x1="198.4" y1="206.0" x2="200.19" y2="224.8" stroke="#111" stroke-width="1.3"/>
<line x1="200.88" y1="232.1" x2="202.2" y2="246.0" stroke="#111" stroke-width="1.3"/>
<line x1="208.0" y1="286.6" x2="211.7" y2="292.1" stroke="#111" stroke-width="1.3"/>
<line x1="217.3" y1="287.9" x2="221.0" y2="292.5" stroke="#111" stroke-width="1.3"/>
<line x1="226.7" y1="287.9" x2="229.9" y2="293.1" stroke="#111" stroke-width="1.3"/>
<line x1="236.5" y1="288.4" x2="239.8" y2="290.7" stroke="#111" stroke-width="1.3"/>
<line x1="245.7" y1="280.4" x2="249.4" y2="291.0" stroke="#111" stroke-width="1.3"/>
<circle cx="28.6" cy="286.7" r="2.3" fill="#000"/>
<circle cx="28.6" cy="290.3" r="2.3" fill="#000"/>
<circle cx="37.9" cy="288.6" r="2.3" fill="#000"/>
<circle cx="47.3" cy="224.6" r="2.3" fill="#000"/>
<circle cx="56.8" cy="241.2" r="2.3" fill="#000"/>
<circle cx="65.6" cy="293.6" r="2.3" fill="#000"/>
<circle cx="75.4" cy="223.6" r="2.3" fill="#000"/>
<circle cx="85.2" cy="198.7" r="2.3" fill="#000"/>
<circle cx="94.4" cy="205.4" r="2.3" fill="#000"/>
<circle cx="103.9" cy="198.4" r="2.3" fill="#000"/>
<circle cx="113.4" cy="260.6" r="2.3" fill="#000"/>
<circle cx="122.5" cy="292.6" r="2.3" fill="#000"/>
<circle cx="132.1" cy="292.3" r="2.3" fill="#000"/>
<circle cx="141.6" cy="292.6" r="2.3" fill="#000"/>
<circle cx="151.0" cy="274.0" r="2.3" fill="#000"/>
<circle cx="160.6" cy="295.6" r="2.3" fill="#000"/>
<circle cx="170.1" cy="286.6" r="2.3" fill="#000"/>
<circle cx="179.2" cy="287.3" r="2.3" fill="#000"/>
<circle cx="179.4" cy="289.8" r="2.3" fill="#000"/>
<circle cx="188.9" cy="278.4" r="2.3" fill="#000"/>
<circle cx="198.4" cy="206.0" r="2.3" fill="#000"/>
<circle cx="198.5" cy="207.0" r="2.3" fill="#000"/>
<circle cx="208.0" cy="286.6" r="2.3" fill="#000"/>
<circle cx="217.3" cy="287.9" r="2.3" fill="#000"/>
<circle cx="226.7" cy="287.9" r="2.3" fill="#000"/>
<circle cx="236.5" cy="288.4" r="2.3" fill="#000"/>
<circle cx="245.7" cy="280.4" r="2.3" fill="#000"/>
<circle cx="245.9" cy="283.4" r="2.3" fill="#000"/>
<line x1="88.2" y1="232.1" x2="88.6" y2="244.5" stroke="#111" stroke-width="1.3"/>
<line x1="201.2" y1="232.1" x2="202.2" y2="246.0" stroke="#111" stroke-width="1.3"/>
<line x1="151.0" y1="274.0" x2="154.8" y2="279.3" stroke="#111" stroke-width="1.3"/>
<text x="366.9" y="6.6" font-size="9" font-weight="bold" text-anchor="start" fill="#111" textLength="66.4" lengthAdjust="spacingAndGlyphs" stroke="#111" stroke-width="0.6">OCI-Ly3 cell line</text>
<line x1="285.5" y1="11.9" x2="516.3" y2="11.9" stroke="#333" stroke-width="1.4"/>
<text x="343.8" y="23.2" font-size="7.6" font-weight="bold" text-anchor="middle" fill="#111" stroke="#111" stroke-width="0.6">VEGF</text>
<text x="466.6" y="23.0" font-size="7.6" font-weight="bold" text-anchor="middle" fill="#111" stroke="#111" stroke-width="0.6">FGF2</text>
<text transform="translate(271.3,57.3) rotate(-90)" font-size="6.6" font-weight="bold" text-anchor="middle" fill="#111" stroke="#111" stroke-width="0.5">pg/ml</text>
<line x1="290.5" y1="22.2" x2="290.5" y2="93.8" stroke="#111" stroke-width="1.2"/>
<line x1="288.3" y1="22.5" x2="290.5" y2="22.5" stroke="#111" stroke-width="0.9"/>
<text x="288.2" y="25.1" font-size="6.5" font-weight="normal" text-anchor="end" fill="#111" textLength="13.2" lengthAdjust="spacingAndGlyphs" stroke="#111" stroke-width="0.5">6000</text>
<line x1="288.3" y1="46.0" x2="290.5" y2="46.0" stroke="#111" stroke-width="0.9"/>
<text x="288.2" y="48.6" font-size="6.5" font-weight="normal" text-anchor="end" fill="#111" textLength="13.2" lengthAdjust="spacingAndGlyphs" stroke="#111" stroke-width="0.5">4000</text>
<line x1="288.3" y1="69.6" x2="290.5" y2="69.6" stroke="#111" stroke-width="0.9"/>
<text x="288.2" y="72.19999999999999" font-size="6.5" font-weight="normal" text-anchor="end" fill="#111" textLength="13.2" lengthAdjust="spacingAndGlyphs" stroke="#111" stroke-width="0.5">2000</text>
<line x1="288.3" y1="93.3" x2="290.5" y2="93.3" stroke="#111" stroke-width="0.9"/>
<text x="288.2" y="95.89999999999999" font-size="6.5" font-weight="normal" text-anchor="end" fill="#111" textLength="3.3" lengthAdjust="spacingAndGlyphs" stroke="#111" stroke-width="0.5">0</text>
<rect x="293.0" y="88.3" width="10.4" height="5.0" fill="#a0a0a0" stroke="#111" stroke-width="0.95"/>
<line x1="313.5" y1="78.3" x2="313.5" y2="79.2" stroke="#111" stroke-width="0.9"/>
<line x1="310.5" y1="78.3" x2="316.5" y2="78.3" stroke="#111" stroke-width="0.9"/>
<rect x="308.3" y="79.2" width="10.4" height="14.1" fill="#a0a0a0" stroke="#111" stroke-width="0.95"/>
<line x1="328.9" y1="36.5" x2="328.9" y2="40.5" stroke="#111" stroke-width="0.9"/>
<line x1="325.9" y1="36.5" x2="331.9" y2="36.5" stroke="#111" stroke-width="0.9"/>
<rect x="323.7" y="40.5" width="10.4" height="52.8" fill="#a0a0a0" stroke="#111" stroke-width="0.95"/>
<line x1="343.6" y1="76.2" x2="343.6" y2="77.6" stroke="#111" stroke-width="0.9"/>
<line x1="340.6" y1="76.2" x2="346.6" y2="76.2" stroke="#111" stroke-width="0.9"/>
<rect x="338.4" y="77.6" width="10.4" height="15.7" fill="#a0a0a0" stroke="#111" stroke-width="0.95"/>
<rect x="353.7" y="92.1" width="10.4" height="1.2" fill="#a0a0a0" stroke="#111" stroke-width="0.95"/>
<line x1="374.3" y1="72.3" x2="374.3" y2="74.4" stroke="#111" stroke-width="0.9"/>
<line x1="371.3" y1="72.3" x2="377.3" y2="72.3" stroke="#111" stroke-width="0.9"/>
<rect x="369.1" y="74.4" width="10.4" height="18.9" fill="#a0a0a0" stroke="#111" stroke-width="0.95"/>
<rect x="384.3" y="90.8" width="10.4" height="2.5" fill="#a0a0a0" stroke="#111" stroke-width="0.95"/>
<line x1="289.9" y1="93.3" x2="396.6" y2="93.3" stroke="#111" stroke-width="1.3"/>
<line x1="298.2" y1="93.3" x2="298.2" y2="95.8" stroke="#111" stroke-width="0.9"/>
<text transform="translate(300.4,101.0) rotate(-45)" font-size="6.95" font-weight="bold" text-anchor="end" fill="#111" stroke="#111" stroke-width="0.5">HS cells</text>
<line x1="313.5" y1="93.3" x2="313.5" y2="95.8" stroke="#111" stroke-width="0.9"/>
<text transform="translate(315.7,101.0) rotate(-45)" font-size="6.95" font-weight="bold" text-anchor="end" fill="#111" stroke="#111" stroke-width="0.5">Ly3 cells</text>
<line x1="328.9" y1="93.3" x2="328.9" y2="95.8" stroke="#111" stroke-width="0.9"/>
<text transform="translate(331.1,101.0) rotate(-45)" font-size="6.95" font-weight="bold" text-anchor="end" fill="#111" stroke="#111" stroke-width="0.5">Ly3/HS cells</text>
<line x1="343.6" y1="93.3" x2="343.6" y2="95.8" stroke="#111" stroke-width="0.9"/>
<text transform="translate(345.8,101.0) rotate(-45)" font-size="6.95" font-weight="bold" text-anchor="end" fill="#111" stroke="#111" stroke-width="0.5">Ly3/HS sup</text>
<line x1="358.9" y1="93.3" x2="358.9" y2="95.8" stroke="#111" stroke-width="0.9"/>
<text transform="translate(361.1,101.0) rotate(-45)" font-size="6.95" font-weight="bold" text-anchor="end" fill="#111" stroke="#111" stroke-width="0.5">Ly3 shJun</text>
<line x1="374.3" y1="93.3" x2="374.3" y2="95.8" stroke="#111" stroke-width="0.9"/>
<text transform="translate(376.5,101.0) rotate(-45)" font-size="6.95" font-weight="bold" text-anchor="end" fill="#111" stroke="#111" stroke-width="0.5">Ly3 shJun/HS cells</text>
<line x1="389.5" y1="93.3" x2="389.5" y2="95.8" stroke="#111" stroke-width="0.9"/>
<text transform="translate(391.7,101.0) rotate(-45)" font-size="6.95" font-weight="bold" text-anchor="end" fill="#111" stroke="#111" stroke-width="0.5">Ly3 shJun/HS sup</text>
<line x1="414.3" y1="21.7" x2="414.3" y2="93.3" stroke="#111" stroke-width="1.2"/>
<line x1="412.1" y1="22.0" x2="414.3" y2="22.0" stroke="#111" stroke-width="0.9"/>
<text x="412.0" y="24.6" font-size="6.5" font-weight="normal" text-anchor="end" fill="#111" textLength="13.2" lengthAdjust="spacingAndGlyphs" stroke="#111" stroke-width="0.5">1500</text>
<line x1="412.1" y1="45.7" x2="414.3" y2="45.7" stroke="#111" stroke-width="0.9"/>
<text x="412.0" y="48.300000000000004" font-size="6.5" font-weight="normal" text-anchor="end" fill="#111" textLength="13.2" lengthAdjust="spacingAndGlyphs" stroke="#111" stroke-width="0.5">1000</text>
<line x1="412.1" y1="69.3" x2="414.3" y2="69.3" stroke="#111" stroke-width="0.9"/>
<text x="412.0" y="71.89999999999999" font-size="6.5" font-weight="normal" text-anchor="end" fill="#111" textLength="9.9" lengthAdjust="spacingAndGlyphs" stroke="#111" stroke-width="0.5">500</text>
<line x1="412.1" y1="92.8" x2="414.3" y2="92.8" stroke="#111" stroke-width="0.9"/>
<text x="412.0" y="95.39999999999999" font-size="6.5" font-weight="normal" text-anchor="end" fill="#111" textLength="3.3" lengthAdjust="spacingAndGlyphs" stroke="#111" stroke-width="0.5">0</text>
<line x1="421.8" y1="89.7" x2="421.8" y2="90.2" stroke="#111" stroke-width="0.9"/>
<line x1="418.8" y1="89.7" x2="424.8" y2="89.7" stroke="#111" stroke-width="0.9"/>
<rect x="416.6" y="90.2" width="10.4" height="2.6" fill="#a0a0a0" stroke="#111" stroke-width="0.95"/>
<line x1="436.8" y1="85.3" x2="436.8" y2="85.9" stroke="#111" stroke-width="0.9"/>
<line x1="433.8" y1="85.3" x2="439.8" y2="85.3" stroke="#111" stroke-width="0.9"/>
<rect x="431.6" y="85.9" width="10.4" height="6.9" fill="#a0a0a0" stroke="#111" stroke-width="0.95"/>
<line x1="452.2" y1="29.5" x2="452.2" y2="35.5" stroke="#111" stroke-width="0.9"/>
<line x1="449.2" y1="29.5" x2="455.2" y2="29.5" stroke="#111" stroke-width="0.9"/>
<rect x="447.0" y="35.5" width="10.4" height="57.3" fill="#a0a0a0" stroke="#111" stroke-width="0.95"/>
<line x1="466.8" y1="85.6" x2="466.8" y2="86.2" stroke="#111" stroke-width="0.9"/>
<line x1="463.8" y1="85.6" x2="469.8" y2="85.6" stroke="#111" stroke-width="0.9"/>
<rect x="461.6" y="86.2" width="10.4" height="6.6" fill="#a0a0a0" stroke="#111" stroke-width="0.95"/>
<line x1="497.1" y1="87.6" x2="497.1" y2="88.2" stroke="#111" stroke-width="0.9"/>
<line x1="494.1" y1="87.6" x2="500.1" y2="87.6" stroke="#111" stroke-width="0.9"/>
<rect x="491.9" y="88.2" width="10.4" height="4.6" fill="#a0a0a0" stroke="#111" stroke-width="0.95"/>
<line x1="507.3" y1="92.2" x2="517.7" y2="92.2" stroke="#111" stroke-width="0.9"/>
<line x1="413.7" y1="92.8" x2="517.5" y2="92.8" stroke="#111" stroke-width="1.3"/>
<line x1="421.8" y1="92.8" x2="421.8" y2="95.3" stroke="#111" stroke-width="0.9"/>
<text transform="translate(424.0,102.4) rotate(-45)" font-size="6.95" font-weight="bold" text-anchor="end" fill="#111" stroke="#111" stroke-width="0.5">HS cells</text>
<line x1="436.8" y1="92.8" x2="436.8" y2="95.3" stroke="#111" stroke-width="0.9"/>
<text transform="translate(439.0,102.4) rotate(-45)" font-size="6.95" font-weight="bold" text-anchor="end" fill="#111" stroke="#111" stroke-width="0.5">Ly3 cells</text>
<line x1="452.2" y1="92.8" x2="452.2" y2="95.3" stroke="#111" stroke-width="0.9"/>
<text transform="translate(454.4,102.4) rotate(-45)" font-size="6.95" font-weight="bold" text-anchor="end" fill="#111" stroke="#111" stroke-width="0.5">Ly3/HS cells</text>
<line x1="466.8" y1="92.8" x2="466.8" y2="95.3" stroke="#111" stroke-width="0.9"/>
<text transform="translate(469.0,102.4) rotate(-45)" font-size="6.95" font-weight="bold" text-anchor="end" fill="#111" stroke="#111" stroke-width="0.5">Ly3/HS sup</text>
<line x1="481.9" y1="92.8" x2="481.9" y2="95.3" stroke="#111" stroke-width="0.9"/>
<text transform="translate(484.1,102.4) rotate(-45)" font-size="6.95" font-weight="bold" text-anchor="end" fill="#111" stroke="#111" stroke-width="0.5">Ly3 shJun</text>
<line x1="497.1" y1="92.8" x2="497.1" y2="95.3" stroke="#111" stroke-width="0.9"/>
<text transform="translate(499.3,102.4) rotate(-45)" font-size="6.95" font-weight="bold" text-anchor="end" fill="#111" stroke="#111" stroke-width="0.5">Ly3 shJun/HS cells</text>
<line x1="512.5" y1="92.8" x2="512.5" y2="95.3" stroke="#111" stroke-width="0.9"/>
<text transform="translate(514.7,102.4) rotate(-45)" font-size="6.95" font-weight="bold" text-anchor="end" fill="#111" stroke="#111" stroke-width="0.5">Ly3 shJun/HS sup</text>
<text x="371.2" y="187.0" font-size="9" font-weight="bold" text-anchor="start" fill="#111" textLength="71.8" lengthAdjust="spacingAndGlyphs" stroke="#111" stroke-width="0.6">OCI-Ly10 cell line</text>
<line x1="285.4" y1="192.2" x2="516.3" y2="192.2" stroke="#333" stroke-width="1.4"/>
<text x="345.6" y="204.6" font-size="7.6" font-weight="bold" text-anchor="middle" fill="#111" stroke="#111" stroke-width="0.6">VEGF</text>
<text x="467.6" y="203.2" font-size="7.6" font-weight="bold" text-anchor="middle" fill="#111" stroke="#111" stroke-width="0.6">FGF2</text>
<text transform="translate(273.2,238.7) rotate(-90)" font-size="6.6" font-weight="bold" text-anchor="middle" fill="#111" stroke="#111" stroke-width="0.5">pg/ml</text>
<line x1="293.3" y1="203.0" x2="293.3" y2="274.7" stroke="#111" stroke-width="1.2"/>
<line x1="291.1" y1="203.3" x2="293.3" y2="203.3" stroke="#111" stroke-width="0.9"/>
<text x="291.0" y="205.9" font-size="6.5" font-weight="normal" text-anchor="end" fill="#111" textLength="13.2" lengthAdjust="spacingAndGlyphs" stroke="#111" stroke-width="0.5">2000</text>
<line x1="291.1" y1="221.0" x2="293.3" y2="221.0" stroke="#111" stroke-width="0.9"/>
<text x="291.0" y="223.6" font-size="6.5" font-weight="normal" text-anchor="end" fill="#111" textLength="13.2" lengthAdjust="spacingAndGlyphs" stroke="#111" stroke-width="0.5">1500</text>
<line x1="291.1" y1="238.7" x2="293.3" y2="238.7" stroke="#111" stroke-width="0.9"/>
<text x="291.0" y="241.29999999999998" font-size="6.5" font-weight="normal" text-anchor="end" fill="#111" textLength="13.2" lengthAdjust="spacingAndGlyphs" stroke="#111" stroke-width="0.5">1000</text>
<line x1="291.1" y1="256.6" x2="293.3" y2="256.6" stroke="#111" stroke-width="0.9"/>
<text x="291.0" y="259.20000000000005" font-size="6.5" font-weight="normal" text-anchor="end" fill="#111" textLength="9.9" lengthAdjust="spacingAndGlyphs" stroke="#111" stroke-width="0.5">500</text>
<line x1="291.1" y1="274.2" x2="293.3" y2="274.2" stroke="#111" stroke-width="0.9"/>
<text x="291.0" y="276.8" font-size="6.5" font-weight="normal" text-anchor="end" fill="#111" textLength="3.3" lengthAdjust="spacingAndGlyphs" stroke="#111" stroke-width="0.5">0</text>
<rect x="295.6" y="258.5" width="10.4" height="15.7" fill="#a0a0a0" stroke="#111" stroke-width="0.95"/>
<line x1="315.6" y1="266.1" x2="315.6" y2="270.0" stroke="#111" stroke-width="0.9"/>
<line x1="312.6" y1="266.1" x2="318.6" y2="266.1" stroke="#111" stroke-width="0.9"/>
<rect x="310.4" y="270.0" width="10.4" height="4.2" fill="#a0a0a0" stroke="#111" stroke-width="0.95"/>
<line x1="330.6" y1="213.0" x2="330.6" y2="217.5" stroke="#111" stroke-width="0.9"/>
<line x1="327.6" y1="213.0" x2="333.6" y2="213.0" stroke="#111" stroke-width="0.9"/>
<rect x="325.4" y="217.5" width="10.4" height="56.7" fill="#a0a0a0" stroke="#111" stroke-width="0.95"/>
<line x1="345.6" y1="267.3" x2="345.6" y2="268.4" stroke="#111" stroke-width="0.9"/>
<line x1="342.6" y1="267.3" x2="348.6" y2="267.3" stroke="#111" stroke-width="0.9"/>
<rect x="340.4" y="268.4" width="10.4" height="5.8" fill="#a0a0a0" stroke="#111" stroke-width="0.95"/>
<rect x="355.5" y="273.2" width="10.4" height="1.0" fill="#a0a0a0" stroke="#111" stroke-width="0.95"/>
<line x1="375.6" y1="233.0" x2="375.6" y2="237.0" stroke="#111" stroke-width="0.9"/>
<line x1="372.6" y1="233.0" x2="378.6" y2="233.0" stroke="#111" stroke-width="0.9"/>
<rect x="370.4" y="237.0" width="10.4" height="37.2" fill="#a0a0a0" stroke="#111" stroke-width="0.95"/>
<rect x="386.6" y="270.0" width="10.4" height="4.2" fill="#a0a0a0" stroke="#111" stroke-width="0.95"/>
<line x1="292.7" y1="274.2" x2="399.3" y2="274.2" stroke="#111" stroke-width="1.3"/>
<line x1="300.8" y1="274.2" x2="300.8" y2="276.7" stroke="#111" stroke-width="0.9"/>
<text transform="translate(303.0,281.5) rotate(-45)" font-size="6.95" font-weight="bold" text-anchor="end" fill="#111" stroke="#111" stroke-width="0.5">HS cells</text>
<line x1="315.6" y1="274.2" x2="315.6" y2="276.7" stroke="#111" stroke-width="0.9"/>
<text transform="translate(317.8,281.5) rotate(-45)" font-size="6.95" font-weight="bold" text-anchor="end" fill="#111" stroke="#111" stroke-width="0.5">Ly10 cells</text>
<line x1="330.6" y1="274.2" x2="330.6" y2="276.7" stroke="#111" stroke-width="0.9"/>
<text transform="translate(332.8,281.5) rotate(-45)" font-size="6.95" font-weight="bold" text-anchor="end" fill="#111" stroke="#111" stroke-width="0.5">Ly10/HS cells</text>
<line x1="345.6" y1="274.2" x2="345.6" y2="276.7" stroke="#111" stroke-width="0.9"/>
<text transform="translate(347.8,281.5) rotate(-45)" font-size="6.95" font-weight="bold" text-anchor="end" fill="#111" stroke="#111" stroke-width="0.5">Ly10/HS sup</text>
<line x1="360.7" y1="274.2" x2="360.7" y2="276.7" stroke="#111" stroke-width="0.9"/>
<text transform="translate(362.9,281.5) rotate(-45)" font-size="6.95" font-weight="bold" text-anchor="end" fill="#111" stroke="#111" stroke-width="0.5">Ly10 shJun</text>
<line x1="375.6" y1="274.2" x2="375.6" y2="276.7" stroke="#111" stroke-width="0.9"/>
<text transform="translate(377.8,281.5) rotate(-45)" font-size="6.95" font-weight="bold" text-anchor="end" fill="#111" stroke="#111" stroke-width="0.5">Ly10 shJun/HS cells</text>
<line x1="391.8" y1="274.2" x2="391.8" y2="276.7" stroke="#111" stroke-width="0.9"/>
<text transform="translate(394.0,281.5) rotate(-45)" font-size="6.95" font-weight="bold" text-anchor="end" fill="#111" stroke="#111" stroke-width="0.5">Ly3 shJun/HS sup</text>
<line x1="415.0" y1="202.89999999999998" x2="415.0" y2="273.3" stroke="#111" stroke-width="1.2"/>
<line x1="412.8" y1="203.2" x2="415.0" y2="203.2" stroke="#111" stroke-width="0.9"/>
<text x="412.7" y="205.79999999999998" font-size="6.5" font-weight="normal" text-anchor="end" fill="#111" textLength="9.9" lengthAdjust="spacingAndGlyphs" stroke="#111" stroke-width="0.5">250</text>
<line x1="412.8" y1="217.0" x2="415.0" y2="217.0" stroke="#111" stroke-width="0.9"/>
<text x="412.7" y="219.6" font-size="6.5" font-weight="normal" text-anchor="end" fill="#111" textLength="9.9" lengthAdjust="spacingAndGlyphs" stroke="#111" stroke-width="0.5">200</text>
<line x1="412.8" y1="230.8" x2="415.0" y2="230.8" stroke="#111" stroke-width="0.9"/>
<text x="412.7" y="233.4" font-size="6.5" font-weight="normal" text-anchor="end" fill="#111" textLength="9.9" lengthAdjust="spacingAndGlyphs" stroke="#111" stroke-width="0.5">150</text>
<line x1="412.8" y1="244.5" x2="415.0" y2="244.5" stroke="#111" stroke-width="0.9"/>
<text x="412.7" y="247.1" font-size="6.5" font-weight="normal" text-anchor="end" fill="#111" textLength="9.9" lengthAdjust="spacingAndGlyphs" stroke="#111" stroke-width="0.5">100</text>
<line x1="412.8" y1="258.7" x2="415.0" y2="258.7" stroke="#111" stroke-width="0.9"/>
<text x="412.7" y="261.3" font-size="6.5" font-weight="normal" text-anchor="end" fill="#111" textLength="6.6" lengthAdjust="spacingAndGlyphs" stroke="#111" stroke-width="0.5">50</text>
<line x1="412.8" y1="272.8" x2="415.0" y2="272.8" stroke="#111" stroke-width="0.9"/>
<text x="412.7" y="275.40000000000003" font-size="6.5" font-weight="normal" text-anchor="end" fill="#111" textLength="3.3" lengthAdjust="spacingAndGlyphs" stroke="#111" stroke-width="0.5">0</text>
<line x1="423.7" y1="260.8" x2="423.7" y2="263.4" stroke="#111" stroke-width="0.9"/>
<line x1="420.7" y1="260.8" x2="426.7" y2="260.8" stroke="#111" stroke-width="0.9"/>
<rect x="418.5" y="263.4" width="10.4" height="9.4" fill="#a0a0a0" stroke="#111" stroke-width="0.95"/>
<rect x="433.4" y="272.0" width="10.4" height="0.8" fill="#a0a0a0" stroke="#111" stroke-width="0.95"/>
<line x1="453.7" y1="209.5" x2="453.7" y2="211.2" stroke="#111" stroke-width="0.9"/>
<line x1="450.7" y1="209.5" x2="456.7" y2="209.5" stroke="#111" stroke-width="0.9"/>
<rect x="448.5" y="211.2" width="10.4" height="61.6" fill="#a0a0a0" stroke="#111" stroke-width="0.95"/>
<line x1="467.6" y1="270.0" x2="467.6" y2="271.6" stroke="#111" stroke-width="0.9"/>
<line x1="464.6" y1="270.0" x2="470.6" y2="270.0" stroke="#111" stroke-width="0.9"/>
<rect x="462.4" y="271.6" width="10.4" height="1.2" fill="#a0a0a0" stroke="#111" stroke-width="0.95"/>
<line x1="497.6" y1="257.6" x2="497.6" y2="259.0" stroke="#111" stroke-width="0.9"/>
<line x1="494.6" y1="257.6" x2="500.6" y2="257.6" stroke="#111" stroke-width="0.9"/>
<rect x="492.4" y="259.0" width="10.4" height="13.8" fill="#a0a0a0" stroke="#111" stroke-width="0.95"/>
<line x1="511.4" y1="268.2" x2="511.4" y2="270.5" stroke="#111" stroke-width="0.9"/>
<line x1="508.4" y1="268.2" x2="514.4" y2="268.2" stroke="#111" stroke-width="0.9"/>
<rect x="506.2" y="270.5" width="10.4" height="2.3" fill="#a0a0a0" stroke="#111" stroke-width="0.95"/>
<line x1="414.4" y1="272.8" x2="517.8" y2="272.8" stroke="#111" stroke-width="1.3"/>
<line x1="423.7" y1="272.8" x2="423.7" y2="275.3" stroke="#111" stroke-width="0.9"/>
<text transform="translate(425.9,281.8) rotate(-45)" font-size="6.95" font-weight="bold" text-anchor="end" fill="#111" stroke="#111" stroke-width="0.5">HS cells</text>
<line x1="438.6" y1="272.8" x2="438.6" y2="275.3" stroke="#111" stroke-width="0.9"/>
<text transform="translate(440.8,281.8) rotate(-45)" font-size="6.95" font-weight="bold" text-anchor="end" fill="#111" stroke="#111" stroke-width="0.5">Ly10 cells</text>
<line x1="453.7" y1="272.8" x2="453.7" y2="275.3" stroke="#111" stroke-width="0.9"/>
<text transform="translate(455.9,281.8) rotate(-45)" font-size="6.95" font-weight="bold" text-anchor="end" fill="#111" stroke="#111" stroke-width="0.5">Ly10/HS cells</text>
<line x1="467.6" y1="272.8" x2="467.6" y2="275.3" stroke="#111" stroke-width="0.9"/>
<text transform="translate(469.8,281.8) rotate(-45)" font-size="6.95" font-weight="bold" text-anchor="end" fill="#111" stroke="#111" stroke-width="0.5">Ly10/HS sup</text>
<line x1="482.6" y1="272.8" x2="482.6" y2="275.3" stroke="#111" stroke-width="0.9"/>
<text transform="translate(484.8,281.8) rotate(-45)" font-size="6.95" font-weight="bold" text-anchor="end" fill="#111" stroke="#111" stroke-width="0.5">Ly10 shJun</text>
<line x1="497.6" y1="272.8" x2="497.6" y2="275.3" stroke="#111" stroke-width="0.9"/>
<text transform="translate(499.8,281.8) rotate(-45)" font-size="6.95" font-weight="bold" text-anchor="end" fill="#111" stroke="#111" stroke-width="0.5">Ly10 shJun/HS cells</text>
<line x1="511.4" y1="272.8" x2="511.4" y2="275.3" stroke="#111" stroke-width="0.9"/>
<text transform="translate(513.6,281.8) rotate(-45)" font-size="6.95" font-weight="bold" text-anchor="end" fill="#111" stroke="#111" stroke-width="0.5">Ly10 shJun/HS sup</text>
</g>
</svg>
</body></html>
